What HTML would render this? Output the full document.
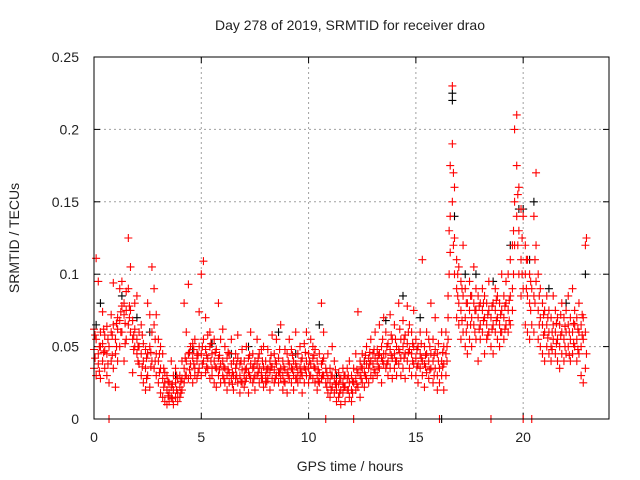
<!DOCTYPE html>
<html><head><meta charset="utf-8">
<style>
html,body{margin:0;padding:0;background:#fff;}
svg{display:block;font-family:"Liberation Sans",sans-serif;}
</style></head>
<body>
<svg id="chart" width="640" height="480" viewBox="0 0 640 480">
<text x="350" y="30" font-size="14" text-anchor="middle" fill="#222">Day 278 of 2019, SRMTID for receiver drao</text>
<text x="0" y="0" font-size="14" text-anchor="middle" fill="#222" transform="translate(19,238) rotate(-90)">SRMTID / TECUs</text>
<text x="350" y="471" font-size="14" text-anchor="middle" fill="#222">GPS time / hours</text>
<g id="grid"></g>
<g id="ticks"></g>
<g id="blackPts"></g>
<g id="redPts"></g>
<rect x="94" y="57" width="515" height="362" fill="none" stroke="#000" stroke-width="1"/>
</svg>
<script>
const xTicks=[0,5,10,15,20];
const yTicks=[0,0.05,0.1,0.15,0.2,0.25];
const yTickLabels=["0","0.05","0.1","0.15","0.2","0.25"];
// red series A: [time, v1, v2, v3]
const redRows=[
[0.0,.048,.035,.062],[0.1,.055,.030,.111],[0.2,.045,.038,.095],[0.3,.060,.028,.050],[0.4,.040,.052,.074],
[0.5,.035,.058,.047],[0.6,.030,.045,.064],[0.7,.050,.025,.000],[0.8,.072,.040,.060],[0.9,.065,.035,.094],
[1.0,.055,.045,.022],[1.1,.062,.070,.040],[1.2,.068,.050,.090],[1.3,.078,.060,.095],[1.4,.072,.080,.040],
[1.5,.075,.055,.088],[1.6,.090,.065,.125],[1.7,.075,.060,.105],[1.8,.068,.055,.032],[1.9,.062,.050,.080],
[2.0,.055,.045,.085],[2.1,.050,.038,.060],[2.2,.045,.030,.065],[2.3,.040,.025,.052],[2.4,.035,.048,.020],
[2.5,.045,.030,.080],[2.6,.050,.022,.072],[2.7,.060,.040,.105],[2.8,.065,.035,.090],[2.9,.045,.030,.072],
[3.0,.040,.025,.055],[3.1,.035,.018,.050],[3.2,.028,.015,.045],[3.3,.025,.012,.032],[3.4,.020,.010,.030],
[3.5,.018,.025,.012],[3.6,.022,.015,.040],[3.7,.020,.010,.030],[3.8,.025,.015,.035],[3.9,.018,.012,.028],
[4.0,.022,.030,.015],[4.1,.028,.020,.040],[4.2,.035,.025,.080],[4.3,.040,.030,.060],[4.4,.045,.028,.093],
[4.5,.038,.030,.050],[4.6,.042,.025,.052],[4.7,.035,.030,.055],[4.8,.040,.045,.028],[4.9,.050,.035,.074],
[5.0,.045,.030,.100],[5.1,.040,.055,.109],[5.2,.048,.032,.070],[5.3,.042,.035,.058],[5.4,.050,.028,.060],
[5.5,.045,.035,.030],[5.6,.040,.025,.055],[5.7,.035,.048,.022],[5.8,.042,.030,.080],[5.9,.038,.055,.025],
[6.0,.040,.030,.062],[6.1,.035,.025,.050],[6.2,.030,.042,.020],[6.3,.045,.032,.025],[6.4,.038,.028,.055],
[6.5,.030,.040,.020],[6.6,.035,.028,.045],[6.7,.042,.025,.058],[6.8,.030,.038,.018],[6.9,.034,.025,.048],
[7.0,.030,.040,.022],[7.1,.035,.028,.050],[7.2,.032,.042,.018],[7.3,.028,.038,.060],[7.4,.035,.025,.045],
[7.5,.030,.040,.020],[7.6,.038,.030,.055],[7.7,.025,.035,.045],[7.8,.032,.028,.048],[7.9,.036,.022,.050],
[8.0,.030,.040,.025],[8.1,.035,.028,.048],[8.2,.032,.040,.020],[8.3,.028,.036,.058],[8.4,.034,.025,.045],
[8.5,.030,.038,.055],[8.6,.025,.032,.042],[8.7,.035,.028,.065],[8.8,.030,.040,.020],[8.9,.034,.025,.048],
[9.0,.032,.045,.018],[9.1,.028,.038,.055],[9.2,.035,.025,.048],[9.3,.030,.040,.020],[9.4,.038,.028,.060],
[9.5,.032,.045,.025],[9.6,.035,.028,.050],[9.7,.030,.042,.018],[9.8,.036,.025,.052],[9.9,.040,.030,.060],
[10.0,.035,.045,.025],[10.1,.038,.030,.055],[10.2,.042,.028,.050],[10.3,.035,.025,.048],[10.4,.030,.040,.020],
[10.5,.032,.045,.025],[10.6,.038,.028,.080],[10.7,.030,.042,.060],[10.8,.035,.025,.000],[10.9,.028,.045,.018],
[11.0,.025,.035,.015],[11.1,.022,.030,.050],[11.2,.028,.018,.040],[11.3,.020,.025,.012],[11.4,.024,.032,.015],
[11.5,.020,.028,.010],[11.6,.025,.018,.035],[11.7,.022,.030,.012],[11.8,.028,.020,.035],[11.9,.025,.015,.040],
[12.0,.030,.020,.012],[12.1,.025,.035,.000],[12.2,.028,.020,.045],[12.3,.032,.022,.074],[12.4,.030,.040,.015],
[12.5,.035,.025,.045],[12.6,.032,.040,.022],[12.7,.038,.028,.050],[12.8,.035,.042,.025],[12.9,.040,.030,.055],
[13.0,.038,.045,.028],[13.1,.042,.032,.060],[13.2,.040,.048,.030],[13.3,.045,.035,.065],[13.4,.042,.050,.025],
[13.5,.038,.045,.070],[13.6,.045,.035,.060],[13.7,.040,.052,.030],[13.8,.048,.035,.072],[13.9,.042,.055,.028],
[14.0,.045,.035,.065],[14.1,.040,.050,.030],[14.2,.048,.038,.080],[14.3,.042,.055,.030],[14.4,.050,.035,.068],
[14.5,.045,.058,.028],[14.6,.040,.052,.078],[14.7,.048,.035,.065],[14.8,.045,.060,.030],[14.9,.050,.038,.075],
[15.0,.042,.055,.030],[15.1,.038,.050,.025],[15.2,.035,.045,.060],[15.3,.040,.030,.110],[15.4,.038,.050,.022],
[15.5,.032,.045,.060],[15.6,.040,.028,.055],[15.7,.045,.035,.080],[15.8,.040,.055,.025],[15.9,.035,.048,.070],
[16.0,.030,.045,.020],[16.1,.035,.025,.000],[16.2,.040,.030,.060],[16.3,.038,.050,.020],[16.4,.045,.060,.030],
[16.5,.055,.070,.085],[16.6,.140,.175,.115],[16.7,.190,.230,.150],[16.8,.125,.160,.100],[16.9,.090,.110,.070],
[17.0,.080,.105,.065],[17.1,.075,.095,.055],[17.2,.085,.060,.120],[17.3,.070,.090,.050],[17.4,.065,.080,.045],
[17.5,.075,.055,.095],[17.6,.070,.085,.050],[17.7,.065,.080,.105],[17.8,.075,.055,.090],[17.9,.070,.085,.040],
[18.0,.065,.080,.055],[18.1,.075,.060,.090],[18.2,.070,.085,.045],[18.3,.065,.055,.080],[18.4,.075,.060,.095],
[18.5,.070,.050,.000],[18.6,.065,.080,.045],[18.7,.060,.075,.090],[18.8,.070,.055,.085],[18.9,.065,.080,.050],
[19.0,.075,.060,.100],[19.1,.070,.085,.055],[19.2,.080,.065,.095],[19.3,.075,.060,.100],[19.4,.085,.065,.110],
[19.5,.090,.120,.075],[19.6,.150,.200,.120],[19.7,.175,.210,.140],[19.8,.130,.160,.100],[19.9,.110,.145,.085],
[20.0,.090,.140,.000],[20.1,.100,.120,.065],[20.2,.085,.110,.060],[20.3,.080,.100,.055],[20.4,.090,.065,.000],
[20.5,.085,.140,.060],[20.6,.095,.120,.170],[20.7,.075,.100,.055],[20.8,.070,.090,.050],[20.9,.065,.080,.045],
[21.0,.060,.075,.040],[21.1,.065,.050,.085],[21.2,.060,.045,.075],[21.3,.070,.050,.040],[21.4,.065,.055,.085],
[21.5,.060,.045,.075],[21.6,.055,.070,.040],[21.7,.065,.050,.035],[21.8,.060,.045,.080],[21.9,.055,.070,.040],
[22.0,.060,.045,.075],[22.1,.065,.050,.085],[22.2,.055,.070,.040],[22.3,.060,.045,.090],[22.4,.065,.050,.075],
[22.5,.055,.070,.040],[22.6,.060,.045,.080],[22.7,.065,.050,.030],[22.8,.055,.070,.025],[22.9,.060,.120,.035]
];
// red series B (interleaved samples): [time, v1, v2]
const redRows2=[
[0.05,.042,.058],[0.25,.050,.033],[0.45,.046,.062],[0.65,.038,.055],[0.85,.058,.044],
[1.05,.050,.066],[1.25,.060,.074],[1.45,.066,.052],[1.65,.078,.070],[1.85,.058,.048],
[2.05,.050,.040],[2.25,.036,.058],[2.45,.042,.028],[2.65,.046,.036],[2.85,.055,.040],
[3.05,.032,.045],[3.25,.022,.035],[3.45,.016,.026],[3.65,.014,.024],[3.85,.020,.030],
[4.05,.026,.018],[4.25,.030,.042],[4.45,.034,.046],[4.65,.038,.048],[4.85,.044,.032],
[5.05,.038,.050],[5.25,.044,.036],[5.45,.040,.052],[5.65,.036,.046],[5.85,.034,.044],
[6.05,.036,.028],[6.25,.034,.046],[6.45,.032,.024],[6.65,.038,.030],[6.85,.026,.040],
[7.05,.034,.026],[7.25,.030,.044],[7.45,.036,.028],[7.65,.032,.042],[7.85,.028,.040],
[8.05,.034,.026],[8.25,.036,.044],[8.45,.028,.040],[8.65,.032,.048],[8.85,.036,.026],
[9.05,.030,.040],[9.25,.034,.044],[9.45,.028,.036],[9.65,.040,.032],[9.85,.034,.046],
[10.05,.040,.030],[10.25,.036,.044],[10.45,.034,.026],[10.65,.030,.040],[10.85,.032,.022],
[11.05,.030,.020],[11.25,.024,.034],[11.45,.018,.028],[11.65,.022,.030],[11.85,.020,.030],
[12.05,.026,.018],[12.25,.024,.034],[12.45,.036,.028],[12.65,.030,.044],[12.85,.038,.046],
[13.05,.034,.048],[13.25,.044,.036],[13.45,.040,.055],[13.65,.050,.038],[13.85,.044,.058],
[14.05,.040,.055],[14.25,.046,.062],[14.45,.042,.055],[14.65,.046,.060],[14.85,.040,.052],
[15.05,.048,.036],[15.25,.042,.052],[15.45,.044,.036],[15.65,.050,.034],[15.85,.044,.030],
[16.05,.040,.052],[16.25,.036,.046],[16.45,.050,.040],[16.55,.100,.130],[16.75,.170,.120],
[16.95,.085,.100],[17.15,.068,.090],[17.35,.080,.060],[17.55,.085,.065],[17.75,.060,.075],
[17.95,.078,.062],[18.15,.068,.080],[18.35,.072,.058],[18.55,.078,.062],[18.75,.068,.082],
[18.95,.072,.060],[19.15,.078,.062],[19.35,.082,.068],[19.55,.100,.130],[19.75,.120,.155],
[19.95,.100,.125],[20.15,.090,.110],[20.35,.075,.095],[20.55,.080,.110],[20.75,.065,.085],
[20.95,.058,.072],[21.15,.056,.070],[21.35,.060,.048],[21.55,.066,.052],[21.75,.058,.072],
[21.95,.050,.064],[22.15,.060,.044],[22.35,.066,.052],[22.55,.062,.048],[22.75,.058,.072],
[22.95,.125,.045]
];
// black series: [time, value]
const blackRows=[
[0.1,.065],[0.3,.080],[1.3,.085],[2.0,.070],[2.6,.060],[3.8,.030],[4.6,.048],[5.5,.052],[6.4,.045],
[7.2,.050],[8.6,.060],[9.4,.045],[10.5,.065],[11.3,.030],[12.6,.040],[13.6,.068],[14.4,.085],
[15.2,.070],[16.2,.000],[16.7,.225],[16.7,.220],[16.8,.140],[17.3,.100],[17.8,.100],[18.6,.095],
[19.4,.120],[19.8,.145],[20.0,.145],[20.3,.110],[20.5,.150],[21.2,.090],[22.0,.080],[22.9,.100]
];
const X0=94,X1=609,Y0=419,Y1=57,XMAX=24,YMAX=0.25;
function sx(t){return X0+(t/XMAX)*(X1-X0);}
function sy(v){return Y0-(v/YMAX)*(Y0-Y1);}
const NS="http://www.w3.org/2000/svg";
const grid=document.getElementById('grid'),ticks=document.getElementById('ticks');
function mk(tag,attrs,parent){const e=document.createElementNS(NS,tag);for(const k in attrs)e.setAttribute(k,attrs[k]);parent.appendChild(e);return e;}
xTicks.forEach(t=>{
  const x=sx(t);
  if(t>0){
    const g=mk('line',{x1:x,y1:Y1,x2:x,y2:Y0,stroke:'#a0a0a0','stroke-dasharray':'2,3'},grid);
    
    
  }
  mk('line',{x1:x,y1:Y0,x2:x,y2:Y0-6,stroke:'#000'},ticks);
  mk('line',{x1:x,y1:Y1,x2:x,y2:Y1+6,stroke:'#000'},ticks);
  const l=mk('text',{x:x,y:Y0+23,'font-size':14,'text-anchor':'middle',fill:'#222'},ticks);
  l.textContent=String(t);
  
  
});
yTicks.forEach((v,i)=>{
  const y=sy(v);
  if(v>0&&v<YMAX){
    const g=mk('line',{x1:X0,y1:y,x2:X1,y2:y,stroke:'#a0a0a0','stroke-dasharray':'2,3'},grid);
    
    
  }
  mk('line',{x1:X0,y1:y,x2:X0+6,y2:y,stroke:'#000'},ticks);
  mk('line',{x1:X1,y1:y,x2:X1-6,y2:y,stroke:'#000'},ticks);
  const l=mk('text',{x:X0-15,y:y+5,'font-size':14,'text-anchor':'end',fill:'#222'},ticks);
  l.textContent=yTickLabels[i];
  
  
});
function plus(t,v,color,parent){
  const x=sx(t),y=sy(v);
  return mk('path',{d:`M${x-4} ${y}H${x+4}M${x} ${y-4}V${y+4}`,stroke:color,'stroke-width':1.1,fill:'none'},parent);
}
const bg=document.getElementById('blackPts');
blackRows.forEach(r=>{
  const p=plus(r[0],r[1],'#000',bg);
  
  
});
const rg=document.getElementById('redPts');
function drawRed(rows){
  rows.forEach(r=>{
    for(let k=1;k<r.length;k++){
      const p=plus(r[0],r[k],'#ff0000',rg);
      
      
    }
  });
}
drawRed(redRows);
drawRed(redRows2);
</script>
</body></html>
